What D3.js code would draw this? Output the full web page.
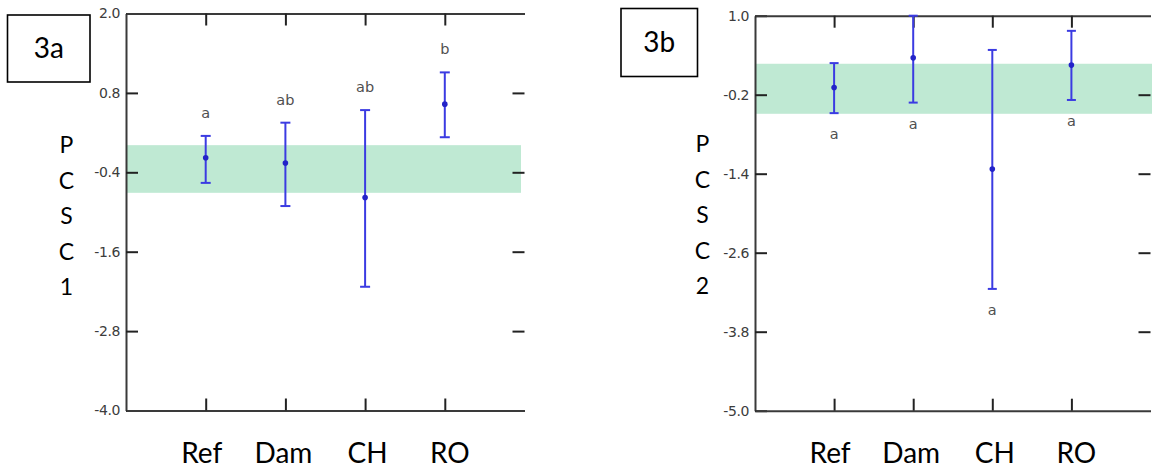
<!DOCTYPE html>
<html>
<head>
<meta charset="utf-8">
<script src="https://cdn.jsdelivr.net/npm/d3@7"></script>
<style>
  html, body { margin: 0; padding: 0; background: #fff; }
  svg { display: block; }
</style>
</head>
<body>
<svg id="chart" width="1152" height="472"></svg>
<script>
// ---------- data ----------
const categories = ["Ref", "Dam", "CH", "RO"];

const pcsc1Mean    = [-0.18, -0.26, -0.78, 0.63];
const pcsc1Low     = [-0.56, -0.91, -2.13, 0.13];
const pcsc1High    = [0.15, 0.35, 0.54, 1.11];
const pcsc1Letters = ["a", "ab", "ab", "b"];
const pcsc1Band    = [-0.71, 0.01];
const pcsc1Ticks   = [2.0, 0.8, -0.4, -1.6, -2.8, -4.0];

const pcsc2Mean    = [-0.09, 0.36, -1.33, 0.25];
const pcsc2Low     = [-0.48, -0.32, -3.15, -0.28];
const pcsc2High    = [0.28, 1.0, 0.48, 0.77];
const pcsc2Letters = ["a", "a", "a", "a"];
const pcsc2Band    = [-0.49, 0.27];
const pcsc2Ticks   = [1.0, -0.2, -1.4, -2.6, -3.8, -5.0];

// ---------- layout ----------
const labelDx = [-4, -2, 2.5, 5];   // small horizontal offsets of category labels
const svg = d3.select("#chart");

function panel(cfg) {
  const g = svg.append("g");
  const x = d3.scalePoint().domain(categories).range([cfg.x0, cfg.x1]).padding(1);
  const y = d3.scaleLinear().domain(d3.extent(cfg.ticks)).range([cfg.yBot, cfg.yTop]);

  // reference band
  g.append("rect")
    .attr("x", cfg.x0)
    .attr("y", y(cfg.band[1]))
    .attr("width", cfg.bandRight - cfg.x0)
    .attr("height", y(cfg.band[0]) - y(cfg.band[1]))
    .attr("fill", "#bfe9d3");

  const axisStyle = sel => {
    sel.selectAll("path.domain").attr("stroke", "#3a3a3a").attr("stroke-width", 2);
    sel.selectAll(".tick line").attr("stroke", "#222").attr("stroke-width", 2);
  };

  // left axis
  g.append("g")
    .attr("transform", `translate(${cfg.x0},0)`)
    .call(d3.axisLeft(y).tickValues(cfg.ticks).tickSize(-12).tickSizeOuter(0).tickPadding(6)
      .tickFormat(d => d.toFixed(1)))
    .call(axisStyle)
    .call(s => s.selectAll(".tick text")
      .attr("fill", "#3c3c3c").attr("font-family", "'DejaVu Sans', sans-serif")
      .attr("font-size", 14).attr("letter-spacing", "-0.4px"));

  // right ticks (no line, no labels)
  g.append("g")
    .attr("transform", `translate(${cfg.x1},0)`)
    .call(d3.axisRight(y).tickValues(cfg.ticks.slice(1, -1)).tickSize(-12).tickSizeOuter(0).tickFormat(""))
    .call(axisStyle)
    .call(s => s.select("path.domain").remove());

  // top axis
  g.append("g")
    .attr("transform", `translate(0,${cfg.yTop})`)
    .call(d3.axisTop(x).tickSize(-12).tickSizeOuter(0).tickFormat(""))
    .call(axisStyle);

  // bottom axis
  g.append("g")
    .attr("transform", `translate(0,${cfg.yBot})`)
    .call(d3.axisBottom(x).tickSize(-12).tickSizeOuter(0).tickFormat(""))
    .call(axisStyle);

  // error bars
  const rows = categories.map((c, i) => ({
    c, i, m: cfg.mean[i], lo: cfg.low[i], hi: cfg.high[i], letter: cfg.letters[i]
  }));
  const bars = g.append("g");
  const blue = "#3b3be2";
  bars.selectAll("line.v").data(rows).join("line")
    .attr("x1", d => x(d.c)).attr("x2", d => x(d.c))
    .attr("y1", d => y(d.hi)).attr("y2", d => y(d.lo))
    .attr("stroke", blue).attr("stroke-width", 2);
  ["hi", "lo"].forEach(k => {
    bars.selectAll("line.cap-" + k).data(rows).join("line")
      .attr("x1", d => x(d.c) - cfg.cap).attr("x2", d => x(d.c) + cfg.cap)
      .attr("y1", d => y(d[k])).attr("y2", d => y(d[k]))
      .attr("stroke", blue).attr("stroke-width", 2);
  });
  bars.selectAll("circle").data(rows).join("circle")
    .attr("cx", d => x(d.c)).attr("cy", d => y(d.m)).attr("r", 2.8)
    .attr("fill", "#2323c8");

  // significance letters
  g.selectAll("text.sig").data(rows).join("text")
    .attr("x", d => x(d.c))
    .attr("y", d => cfg.lettersAbove ? y(d.hi) - 18 : y(d.lo) + 26)
    .attr("text-anchor", "middle")
    .attr("font-family", "'DejaVu Sans', sans-serif").attr("font-size", 14.5)
    .attr("fill", "#505050")
    .text(d => d.letter);

  // category labels
  g.selectAll("text.cat").data(categories).join("text")
    .attr("x", (d, i) => x(d) + labelDx[i])
    .attr("y", 463)
    .attr("text-anchor", "middle")
    .attr("font-family", "Lato, sans-serif").attr("font-size", 28)
    .attr("fill", "#000")
    .text(d => d);

  // vertical y label
  g.selectAll("text.ylab").data(cfg.ylabel.split("")).join("text")
    .attr("x", cfg.ylabX)
    .attr("y", (d, i) => cfg.ylabY + i * 35.5)
    .attr("text-anchor", "middle")
    .attr("font-family", "Lato, sans-serif").attr("font-size", 23)
    .attr("fill", "#000")
    .text(d => d);

  // panel tag box
  g.append("rect")
    .attr("x", cfg.box[0]).attr("y", cfg.box[1])
    .attr("width", cfg.box[2]).attr("height", cfg.box[3])
    .attr("fill", "#fff").attr("stroke", "#000").attr("stroke-width", 1.6);
  g.append("text")
    .attr("x", cfg.box[0] + cfg.box[2] / 2)
    .attr("y", cfg.box[1] + cfg.box[3] / 2 + 9)
    .attr("text-anchor", "middle")
    .attr("font-family", "Lato, sans-serif").attr("font-size", 28)
    .attr("fill", "#000")
    .text(cfg.tag);
}

panel({
  x0: 126, x1: 524.5, yTop: 13.5, yBot: 410.5, bandRight: 521,
  ticks: pcsc1Ticks, band: pcsc1Band,
  mean: pcsc1Mean, low: pcsc1Low, high: pcsc1High, letters: pcsc1Letters,
  lettersAbove: true, cap: 5,
  ylabel: "PCSC1", ylabX: 66.5, ylabY: 153,
  box: [7.5, 15, 82.5, 67], tag: "3a"
});

panel({
  x0: 755, x1: 1150.5, yTop: 15.7, yBot: 410.7, bandRight: 1152,
  ticks: pcsc2Ticks, band: pcsc2Band,
  mean: pcsc2Mean, low: pcsc2Low, high: pcsc2High, letters: pcsc2Letters,
  lettersAbove: false, cap: 4.5,
  ylabel: "PCSC2", ylabX: 702.5, ylabY: 152,
  box: [621, 8.5, 76.5, 68], tag: "3b"
});
</script>
</body>
</html>
